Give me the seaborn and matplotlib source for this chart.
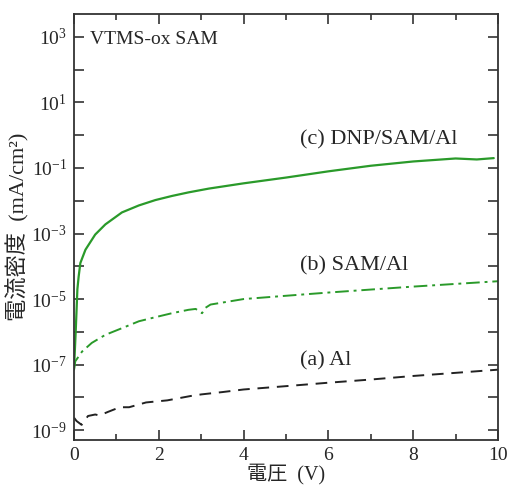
import numpy as np
import pandas as pd
import matplotlib
matplotlib.use("Agg")
import matplotlib.pyplot as plt
import matplotlib.ticker as mticker
import seaborn as sns

# Voltage (V) and current density (mA/cm^2)
v_c = [0.0, 0.04, 0.08, 0.11, 0.15, 0.27, 0.5, 0.74, 1.13, 1.53, 1.92, 2.31, 2.7, 3.18, 4.0, 5.0, 6.0, 7.0, 8.0, 9.0, 9.5, 9.9]
j_c = [7.1e-8, 1e-6, 2e-5, 4.9e-5, 1.26e-4, 3.2e-4, 9.3e-4, 1.9e-3, 4.4e-3, 7.2e-3, 1.05e-2, 1.4e-2, 1.8e-2, 2.35e-2, 3.4e-2, 5.1e-2, 7.9e-2, 1.17e-1, 1.58e-1, 1.95e-1, 1.82e-1, 2.0e-1]

v_b = [0.0, 0.03, 0.19, 0.42, 0.74, 1.13, 1.53, 1.92, 2.31, 2.7, 2.87, 3.02, 3.1, 3.22, 4.0, 5.0, 6.0, 7.0, 8.0, 9.0, 10.0]
j_b = [7.1e-8, 1.26e-7, 2.5e-7, 4.6e-7, 8.1e-7, 1.29e-6, 2.1e-6, 2.8e-6, 3.7e-6, 4.7e-6, 5.0e-6, 3.7e-6, 5.4e-6, 6.8e-6, 1.0e-5, 1.26e-5, 1.58e-5, 1.95e-5, 2.4e-5, 2.9e-5, 3.5e-5]

v_a = [0.0, 0.06, 0.18, 0.33, 0.5, 0.6, 0.8, 1.08, 1.3, 1.7, 2.2, 2.75, 3.0, 3.5, 4.0, 5.0, 6.0, 7.0, 8.0, 9.0, 10.0]
j_a = [2.4e-9, 1.9e-9, 1.45e-9, 2.7e-9, 3.0e-9, 2.8e-9, 3.6e-9, 5.0e-9, 5.0e-9, 7.0e-9, 8.1e-9, 1.1e-8, 1.23e-8, 1.45e-8, 1.74e-8, 2.2e-8, 2.8e-8, 3.5e-8, 4.5e-8, 5.6e-8, 7.0e-8]

x_ticks = [0, 2, 4, 6, 8, 10]
xlabel = "電圧  (V)"
ylabel = "電流密度  (mA/cm²)"
title_text = "VTMS-ox SAM"
label_c = "(c) DNP/SAM/Al"
label_b = "(b) SAM/Al"
label_a = "(a) Al"

sns.set_style("ticks")
plt.rcParams['font.family'] = ['Liberation Serif', 'Noto Sans CJK JP']
plt.rcParams['mathtext.fontset'] = 'custom'
plt.rcParams['mathtext.rm'] = 'Liberation Serif'
plt.rcParams['mathtext.it'] = 'Liberation Serif:italic'

fig = plt.figure(figsize=(5.14, 4.94), dpi=100)
ax = fig.add_axes([74/514, 1-440/494, (498-74)/514, (440-14)/494])

green = "#2a9a2a"
df_c = pd.DataFrame({"V": v_c, "J": j_c})
df_b = pd.DataFrame({"V": v_b, "J": j_b})
df_a = pd.DataFrame({"V": v_a, "J": j_a})

sns.lineplot(data=df_c, x="V", y="J", ax=ax, color=green, lw=1.6, estimator=None, sort=False)
sns.lineplot(data=df_b, x="V", y="J", ax=ax, color=green, lw=1.4, estimator=None, sort=False)
ax.lines[-1].set_dashes([7, 2.5, 1.5, 2.5])
sns.lineplot(data=df_a, x="V", y="J", ax=ax, color="#222222", lw=1.4, estimator=None, sort=False)
ax.lines[-1].set_dashes([6, 4])

ax.set_yscale("log")
ax.set_xlim(0, 10)
ax.set_ylim(5e-10, 5e3)
ax.set_xticks(x_ticks)
ax.xaxis.set_minor_locator(mticker.MultipleLocator(1))
ax.yaxis.set_major_locator(mticker.FixedLocator([10.0**e for e in range(-9, 4, 2)]))
ax.yaxis.set_minor_locator(mticker.FixedLocator([10.0**e for e in range(-8, 4, 2)]))
ax.yaxis.set_major_formatter(mticker.FuncFormatter(lambda v, p: r"$10^{%d}$" % int(round(np.log10(v)))))
ax.yaxis.set_minor_formatter(mticker.NullFormatter())

for s in ax.spines.values():
    s.set_color("#333333")
    s.set_linewidth(1.3)
ax.tick_params(which="both", direction="in", top=True, right=True, color="#333333", width=1.2)
ax.tick_params(which="major", length=7, labelsize=14, pad=5)
ax.tick_params(which="minor", length=7)
ax.tick_params(axis="x", which="minor", length=4)

ax.set_xlabel(xlabel, fontsize=14.5, labelpad=0)
ax.set_ylabel(ylabel, fontsize=16, labelpad=1)

ax.text(0.038, 0.94, title_text, transform=ax.transAxes, fontsize=14, va="center", ha="left")
ax.text(5.33, 10**(-0.15), label_c, fontsize=16, va="center", ha="left")
ax.text(5.33, 10**(-4.0), label_b, fontsize=16, va="center", ha="left")
ax.text(5.33, 10**(-6.9), label_a, fontsize=16, va="center", ha="left")

fig.savefig("out.png", dpi=100)
